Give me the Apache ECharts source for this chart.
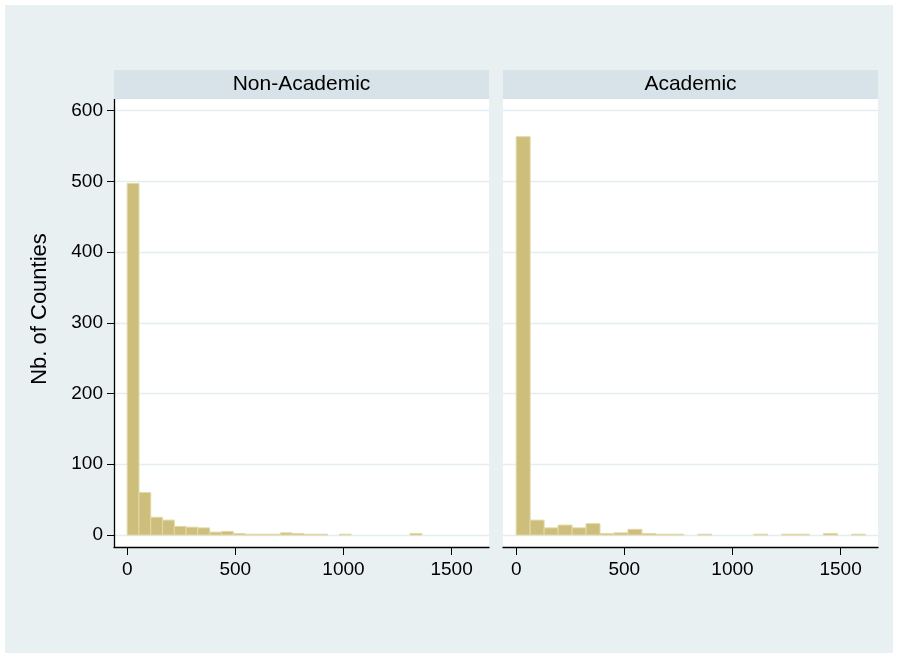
<!DOCTYPE html>
<html>
<head>
<meta charset="utf-8">
<script src="https://cdn.jsdelivr.net/npm/echarts@6/dist/echarts.min.js"></script>
<style>
  html, body { margin: 0; padding: 0; background: #ffffff; }
  #chart { width: 899px; height: 658px; }
</style>
</head>
<body>
<div id="chart"></div>
<script>
// Panel titles and axis title
const panelTitles = ['Non-Academic', 'Academic'];
const yTitle = 'Nb. of Counties';

// Histogram bin widths (each panel has 25 bins starting at 0)
const binWidths = [54.5, 64.6];

// Counties per bin
const nonAcademicCounts = [497, 60, 25, 21, 12, 11, 10, 4, 5, 2, 1, 1, 1, 3, 2, 1, 1, 0, 1, 0, 0, 0, 0, 0, 2];
const academicCounts    = [563, 21, 10, 14, 10, 16, 2, 3, 8, 2, 1, 1, 0, 1, 0, 0, 0, 1, 0, 1, 1, 0, 2, 0, 1];

// Axis ticks
const xTicks = [0, 500, 1000, 1500];
const yTicks = [0, 100, 200, 300, 400, 500, 600];

const panelCounts = [nonAcademicCounts, academicCounts];

function binsFor(counts, width) {
  return counts.map((c, i) => [i * width, (i + 1) * width, c]);
}

const font = 'Liberation Sans, Arial, sans-serif';
const gridLeft = [114, 503];
const gridTop = 99, gridW = 375, gridH = 448;

const chart = echarts.init(document.getElementById('chart'), null, { renderer: 'canvas' });

const grids = gridLeft.map(l => ({ left: l, top: gridTop, width: gridW, height: gridH, containLabel: false, backgroundColor: '#ffffff', show: true, borderWidth: 0 }));

const xAxes = gridLeft.map((l, i) => ({
  type: 'value', gridIndex: i, min: -61, max: 1673,
  axisLine: { show: true, onZero: false, lineStyle: { color: '#000000', width: 1.3 } },
  axisTick: { show: true, length: 8, inside: false, customValues: xTicks, lineStyle: { color: '#000000', width: 1 } },
  axisLabel: { customValues: xTicks, margin: 13, color: '#000000', fontSize: 19, fontFamily: font, formatter: v => String(v) },
  splitLine: { show: false }
}));

const yAxes = gridLeft.map((l, i) => ({
  type: 'value', gridIndex: i, min: -17, max: 616.3,
  axisLine: { show: i === 0, onZero: false, lineStyle: { color: '#000000', width: 1.3 } },
  axisTick: { show: i === 0, length: 7, customValues: yTicks, lineStyle: { color: '#000000', width: 1 } },
  axisLabel: { show: i === 0, customValues: yTicks, margin: 11, color: '#000000', fontSize: 19, fontFamily: font, formatter: v => String(v) },
  splitLine: { show: true, lineStyle: { color: '#e4edf0', width: 1.3 } }
}));

const series = panelCounts.map((counts, i) => ({
  type: 'custom',
  xAxisIndex: i, yAxisIndex: i,
  data: binsFor(counts, binWidths[i]).filter(d => d[2] > 0),
  encode: { x: [0, 1], y: 2 },
  renderItem: function (params, api) {
    const p0 = api.coord([api.value(0), api.value(2)]);
    const p1 = api.coord([api.value(1), 0]);
    return {
      type: 'rect',
      shape: { x: p0[0], y: p0[1], width: p1[0] - p0[0], height: p1[1] - p0[1] },
      style: { fill: '#cdbe7b', stroke: '#e2d8a6', lineWidth: 1 }
    };
  }
}));

// Light surround, title strips over each panel, shared y-axis title
const graphic = [
  { type: 'rect', left: 5, top: 5, shape: { width: 888, height: 648 }, style: { fill: '#e9f0f2' }, z: -10 },
  { type: 'text', x: 40, y: 309, rotation: Math.PI / 2, style: { text: yTitle, fill: '#000000', font: '22px ' + font, textAlign: 'center', textVerticalAlign: 'middle' }, z: 2 }
];
gridLeft.forEach((l, i) => {
  graphic.push({ type: 'rect', left: l, top: 70, shape: { width: gridW, height: 29 }, style: { fill: '#d7e3e9' }, z: 1 });
  graphic.push({ type: 'text', x: l + gridW / 2, y: 84.5, style: { text: panelTitles[i], fill: '#000000', font: '21px ' + font, textAlign: 'center', textVerticalAlign: 'middle' }, z: 2 });
});

chart.setOption({
  backgroundColor: '#ffffff',
  animation: false,
  graphic: graphic,
  grid: grids,
  xAxis: xAxes,
  yAxis: yAxes,
  series: series
});
</script>
</body>
</html>
